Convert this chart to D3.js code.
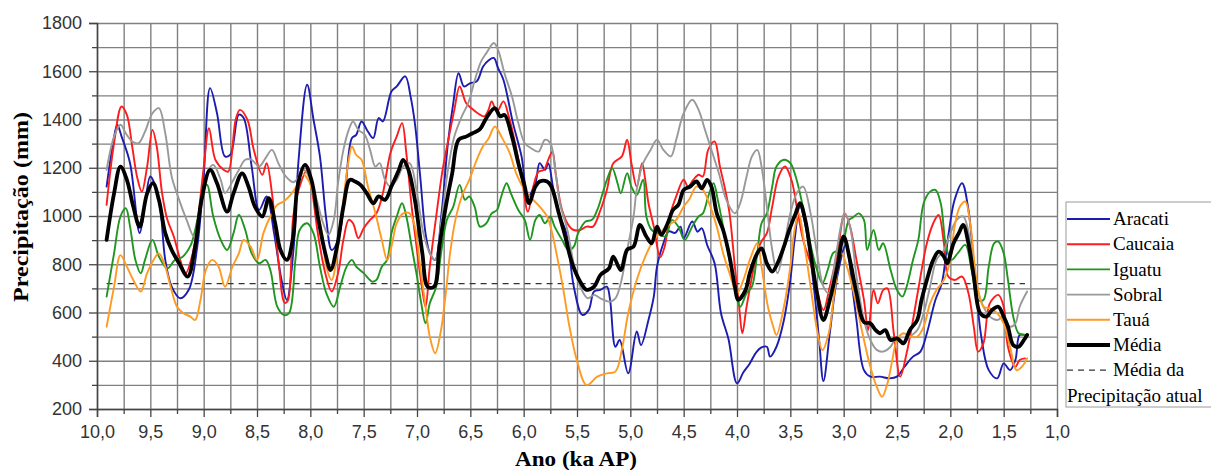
<!DOCTYPE html>
<html>
<head>
<meta charset="utf-8">
<script src="https://cdn.jsdelivr.net/npm/d3@7"></script>
<style>
  body { margin: 0; background: #fff; }
  svg { display: block; }
</style>
</head>
<body>
<div id="wrapper"></div>
<script>
// [idade ka AP, precipitação mm]
const aracati = [[9.91,1122],[9.85,1300],[9.81,1378],[9.77,1330],[9.69,1219],[9.60,929],[9.55,1050],[9.50,1164],[9.42,1067],[9.36,818],[9.30,707],[9.22,659],[9.14,694],[9.06,873],[9.00,1164],[8.94,1530],[8.875,1426],[8.80,1247],[8.75,1254],[8.67,1420],[8.625,1406],[8.55,1205],[8.48,1025],[8.41,1081],[8.34,929],[8.27,735],[8.22,652],[8.16,850],[8.11,1233],[8.03,1544],[7.97,1399],[7.91,1247],[7.85,984],[7.80,859],[7.74,901],[7.68,1067],[7.61,1323],[7.57,1336],[7.52,1392],[7.46,1350],[7.41,1323],[7.36,1406],[7.32,1392],[7.24,1516],[7.19,1537],[7.11,1579],[7.06,1495],[7.02,1385],[6.97,1164],[6.92,928],[6.88,846],[6.83,818],[6.77,1011],[6.71,1302],[6.66,1468],[6.61,1592],[6.56,1537],[6.50,1551],[6.44,1558],[6.38,1620],[6.33,1645],[6.28,1655],[6.24,1613],[6.19,1565],[6.10,1385],[6.02,1247],[5.96,1081],[5.89,1136],[5.85,1219],[5.80,1191],[5.77,1219],[5.72,1108],[5.66,998],[5.60,930],[5.53,707],[5.45,590],[5.39,611],[5.34,687],[5.28,694],[5.22,707],[5.19,652],[5.14,458],[5.10,486],[5.02,348],[4.94,521],[4.90,465],[4.83,569],[4.78,666],[4.75,790],[4.69,887],[4.64,936],[4.58,930],[4.53,956],[4.50,908],[4.42,977],[4.37,935],[4.33,949],[4.28,880],[4.21,804],[4.15,597],[4.08,490],[4.00,306],[3.94,352],[3.88,389],[3.82,435],[3.77,455],[3.72,458],[3.69,417],[3.63,458],[3.56,569],[3.50,735],[3.46,901],[3.41,1039],[3.35,942],[3.28,707],[3.23,486],[3.19,316],[3.13,514],[3.06,749],[2.98,880],[2.92,707],[2.88,569],[2.81,361],[2.75,334],[2.66,334],[2.57,327],[2.50,334],[2.43,375],[2.35,417],[2.28,438],[2.22,514],[2.14,652],[2.08,721],[2.02,915],[1.96,1067],[1.89,1136],[1.83,1025],[1.77,749],[1.71,500],[1.64,361],[1.56,327],[1.50,389],[1.44,361],[1.39,403],[1.35,507],[1.30,507]];

const caucaia = [[9.91,1046],[9.84,1302],[9.77,1454],[9.72,1419],[9.67,1288],[9.625,1164],[9.58,1101],[9.53,1205],[9.48,1357],[9.44,1288],[9.39,1095],[9.34,984],[9.28,915],[9.22,818],[9.17,762],[9.10,850],[9.05,1000],[9.00,1200],[8.95,1364],[8.89,1233],[8.81,1191],[8.77,1184],[8.70,1399],[8.66,1440],[8.59,1399],[8.53,1274],[8.45,1171],[8.41,1219],[8.36,1095],[8.30,818],[8.24,640],[8.21,650],[8.16,998],[8.10,1122],[8.03,1191],[7.99,1122],[7.93,929],[7.86,763],[7.80,687],[7.74,763],[7.69,901],[7.64,984],[7.60,970],[7.55,908],[7.50,949],[7.44,984],[7.38,1011],[7.32,1094],[7.25,1260],[7.19,1330],[7.14,1385],[7.10,1260],[7.05,1039],[7.00,859],[6.95,693],[6.92,624],[6.88,790],[6.82,998],[6.76,1191],[6.70,1330],[6.65,1440],[6.60,1537],[6.54,1468],[6.49,1447],[6.43,1426],[6.37,1413],[6.33,1440],[6.30,1475],[6.25,1433],[6.19,1475],[6.14,1413],[6.08,1302],[6.02,1164],[5.96,1018],[5.91,1122],[5.86,1184],[5.81,1191],[5.77,1233],[5.73,1267],[5.70,1177],[5.64,1025],[5.57,956],[5.53,942],[5.47,942],[5.41,956],[5.35,956],[5.28,1025],[5.22,1108],[5.16,1219],[5.08,1247],[5.03,1316],[4.99,1219],[4.94,1122],[4.89,1219],[4.86,1150],[4.83,1053],[4.78,956],[4.72,830],[4.68,870],[4.63,1000],[4.57,1081],[4.50,1150],[4.46,1122],[4.41,1150],[4.36,1171],[4.32,1164],[4.27,1274],[4.21,1309],[4.16,1205],[4.11,1108],[4.07,1011],[4.02,790],[3.98,624],[3.95,514],[3.91,624],[3.84,790],[3.78,887],[3.72,929],[3.67,1039],[3.61,1164],[3.55,1205],[3.49,1150],[3.44,1039],[3.38,901],[3.31,804],[3.25,693],[3.19,610],[3.13,707],[3.06,846],[2.99,1011],[2.94,956],[2.88,818],[2.81,652],[2.77,527],[2.72,693],[2.68,638],[2.63,693],[2.59,700],[2.53,514],[2.47,334],[2.41,431],[2.35,569],[2.28,749],[2.22,887],[2.16,970],[2.11,1004],[2.06,887],[2.02,749],[1.96,735],[1.89,749],[1.83,680],[1.78,541],[1.74,438],[1.69,472],[1.63,638],[1.55,673],[1.50,624],[1.46,458],[1.39,375],[1.35,403],[1.30,410]];

const iguatu = [[9.91,666],[9.84,845],[9.78,998],[9.73,1032],[9.69,956],[9.64,818],[9.59,763],[9.55,818],[9.48,901],[9.42,832],[9.34,783],[9.27,818],[9.20,830],[9.12,880],[9.05,1000],[8.97,1130],[8.91,998],[8.84,901],[8.78,859],[8.72,929],[8.67,1005],[8.61,942],[8.55,845],[8.48,804],[8.42,818],[8.375,776],[8.31,624],[8.25,590],[8.20,597],[8.14,818],[8.10,942],[8.03,970],[7.97,928],[7.91,790],[7.85,680],[7.78,624],[7.72,707],[7.66,790],[7.61,818],[7.57,790],[7.50,763],[7.42,728],[7.38,735],[7.33,790],[7.28,818],[7.24,928],[7.19,998],[7.14,1053],[7.10,998],[7.05,873],[7.00,749],[6.96,638],[6.92,555],[6.88,638],[6.82,707],[6.77,859],[6.72,984],[6.66,1039],[6.60,1129],[6.55,1067],[6.51,1081],[6.46,1039],[6.41,956],[6.35,970],[6.30,1011],[6.25,1025],[6.21,1081],[6.16,1136],[6.12,1094],[6.05,1025],[5.99,984],[5.94,901],[5.89,984],[5.85,1004],[5.80,970],[5.75,998],[5.71,956],[5.64,901],[5.58,859],[5.53,873],[5.49,928],[5.42,977],[5.36,984],[5.31,1025],[5.26,1094],[5.22,1150],[5.17,1198],[5.12,1136],[5.09,1094],[5.03,1177],[4.99,1122],[4.94,1087],[4.88,1150],[4.85,998],[4.80,942],[4.74,928],[4.67,915],[4.61,984],[4.55,956],[4.49,901],[4.42,956],[4.36,998],[4.32,1011],[4.27,1081],[4.22,1136],[4.18,1067],[4.13,956],[4.07,818],[4.02,707],[3.97,624],[3.91,680],[3.86,707],[3.81,846],[3.77,970],[3.72,1011],[3.67,1122],[3.63,1205],[3.56,1233],[3.50,1219],[3.45,1164],[3.41,1094],[3.35,970],[3.30,860],[3.25,776],[3.20,721],[3.15,776],[3.10,846],[3.05,860],[3.00,901],[2.95,984],[2.91,995],[2.86,1011],[2.81,984],[2.78,859],[2.72,942],[2.67,859],[2.63,887],[2.56,776],[2.50,693],[2.45,666],[2.41,707],[2.35,818],[2.30,901],[2.25,1053],[2.19,1101],[2.14,1108],[2.09,1053],[2.04,873],[1.99,818],[1.93,846],[1.86,880],[1.80,776],[1.74,652],[1.69,652],[1.64,790],[1.59,887],[1.55,894],[1.50,846],[1.46,735],[1.41,583],[1.36,514],[1.30,507]];

const sobral = [[9.91,1191],[9.84,1329],[9.78,1378],[9.73,1343],[9.67,1309],[9.61,1302],[9.55,1350],[9.48,1426],[9.42,1447],[9.36,1343],[9.30,1164],[9.23,1067],[9.16,984],[9.09,915],[9.03,1025],[8.97,1177],[8.91,1212],[8.84,1150],[8.80,1095],[8.73,1143],[8.67,1191],[8.61,1233],[8.55,1233],[8.48,1205],[8.42,1240],[8.36,1274],[8.30,1219],[8.23,1164],[8.16,1140],[8.11,1160],[8.06,1191],[8.00,1150],[7.94,1067],[7.88,970],[7.83,922],[7.78,984],[7.74,1136],[7.69,1274],[7.64,1357],[7.60,1392],[7.55,1357],[7.49,1337],[7.44,1274],[7.39,1205],[7.35,1219],[7.30,1150],[7.25,1122],[7.19,1150],[7.13,1205],[7.07,1219],[7.00,1095],[6.94,928],[6.88,846],[6.83,818],[6.77,984],[6.71,1191],[6.65,1330],[6.58,1413],[6.52,1468],[6.46,1560],[6.40,1640],[6.35,1675],[6.28,1717],[6.24,1689],[6.18,1592],[6.11,1496],[6.05,1385],[5.99,1302],[5.93,1281],[5.86,1267],[5.80,1316],[5.75,1302],[5.70,1177],[5.66,1053],[5.59,942],[5.53,800],[5.47,707],[5.40,659],[5.34,673],[5.28,659],[5.20,645],[5.14,659],[5.09,721],[5.03,859],[4.97,998],[4.94,1110],[4.88,1219],[4.81,1274],[4.75,1316],[4.69,1274],[4.62,1247],[4.57,1316],[4.50,1426],[4.42,1482],[4.36,1440],[4.30,1357],[4.24,1274],[4.17,1177],[4.10,1067],[4.02,1011],[3.97,1053],[3.91,1164],[3.86,1247],[3.81,1274],[3.77,1205],[3.72,1039],[3.67,860],[3.62,763],[3.56,873],[3.50,1011],[3.44,1094],[3.38,1122],[3.31,1011],[3.25,846],[3.19,707],[3.14,680],[3.08,818],[3.02,970],[2.99,1011],[2.94,956],[2.88,750],[2.81,569],[2.75,486],[2.69,445],[2.63,438],[2.56,458],[2.50,500],[2.44,479],[2.38,500],[2.31,527],[2.25,597],[2.19,707],[2.13,818],[2.06,859],[2.00,928],[1.94,984],[1.88,998],[1.81,887],[1.75,707],[1.69,624],[1.63,583],[1.56,569],[1.50,583],[1.44,541],[1.39,555],[1.35,624],[1.28,687]];

const taua = [[9.91,541],[9.84,707],[9.78,838],[9.72,790],[9.66,735],[9.59,687],[9.53,763],[9.47,818],[9.42,845],[9.36,790],[9.31,707],[9.25,624],[9.19,597],[9.125,583],[9.08,569],[9.03,652],[8.98,776],[8.92,818],[8.86,790],[8.80,707],[8.73,790],[8.67,845],[8.625,901],[8.56,873],[8.50,818],[8.44,929],[8.375,998],[8.31,1046],[8.25,1060],[8.19,1085],[8.13,1122],[8.08,1177],[8.02,1150],[7.96,1067],[7.89,928],[7.85,790],[7.80,735],[7.74,873],[7.69,1067],[7.64,1233],[7.61,1288],[7.57,1253],[7.52,1233],[7.46,1122],[7.39,1011],[7.33,901],[7.28,818],[7.24,873],[7.19,970],[7.13,1011],[7.07,1011],[7.02,956],[6.97,790],[6.92,624],[6.88,500],[6.83,431],[6.78,514],[6.73,680],[6.69,846],[6.64,984],[6.58,1081],[6.51,1150],[6.44,1233],[6.38,1290],[6.33,1320],[6.27,1371],[6.21,1330],[6.13,1260],[6.07,1177],[5.99,1108],[5.91,1067],[5.85,1039],[5.78,998],[5.74,942],[5.69,840],[5.63,700],[5.57,540],[5.50,400],[5.41,299],[5.31,334],[5.22,348],[5.14,355],[5.08,445],[5.02,597],[4.94,735],[4.86,832],[4.78,901],[4.71,936],[4.63,965],[4.57,984],[4.50,1039],[4.45,1067],[4.38,1122],[4.32,1108],[4.25,1039],[4.19,956],[4.13,846],[4.07,763],[4.00,680],[3.94,735],[3.88,818],[3.81,887],[3.77,790],[3.71,624],[3.66,541],[3.63,507],[3.56,624],[3.50,790],[3.46,942],[3.42,1011],[3.38,915],[3.31,707],[3.25,528],[3.20,444],[3.14,514],[3.08,707],[3.02,846],[2.96,776],[2.89,652],[2.83,527],[2.75,375],[2.69,292],[2.64,251],[2.59,306],[2.55,389],[2.50,486],[2.44,514],[2.38,500],[2.31,500],[2.25,541],[2.19,638],[2.13,693],[2.06,735],[2.00,818],[1.96,956],[1.91,1039],[1.86,1060],[1.81,956],[1.75,721],[1.69,624],[1.63,617],[1.56,597],[1.50,555],[1.44,458],[1.38,361],[1.33,375],[1.28,410]];

const media = [[9.91,901],[9.84,1094],[9.78,1205],[9.72,1150],[9.66,1039],[9.60,956],[9.53,1094],[9.475,1136],[9.42,1067],[9.36,929],[9.30,859],[9.23,804],[9.15,749],[9.08,873],[9.02,1067],[8.94,1191],[8.875,1136],[8.78,1018],[8.72,1094],[8.64,1177],[8.58,1122],[8.52,1039],[8.45,998],[8.39,1074],[8.33,970],[8.28,859],[8.22,818],[8.16,915],[8.12,1122],[8.05,1212],[7.99,1150],[7.93,998],[7.86,846],[7.81,776],[7.75,873],[7.69,1039],[7.63,1150],[7.58,1143],[7.53,1129],[7.47,1094],[7.41,1053],[7.36,1081],[7.30,1067],[7.24,1122],[7.17,1191],[7.13,1233],[7.08,1191],[7.02,1067],[6.95,846],[6.90,707],[6.84,707],[6.79,873],[6.73,1039],[6.67,1177],[6.61,1316],[6.54,1329],[6.48,1343],[6.41,1360],[6.35,1406],[6.27,1447],[6.22,1413],[6.18,1419],[6.11,1330],[6.05,1219],[5.99,1122],[5.95,1053],[5.89,1122],[5.85,1143],[5.78,1143],[5.74,1122],[5.67,1011],[5.61,915],[5.55,810],[5.47,728],[5.41,694],[5.34,707],[5.28,756],[5.20,783],[5.16,832],[5.09,776],[5.03,860],[4.97,873],[4.91,963],[4.85,915],[4.80,887],[4.75,956],[4.71,922],[4.65,970],[4.60,1025],[4.55,1046],[4.50,1108],[4.44,1122],[4.38,1143],[4.33,1115],[4.28,1150],[4.24,1122],[4.19,1011],[4.13,942],[4.07,832],[4.02,707],[3.99,652],[3.92,693],[3.88,763],[3.81,846],[3.77,866],[3.72,804],[3.67,770],[3.62,804],[3.56,873],[3.51,942],[3.45,1011],[3.41,1053],[3.36,984],[3.31,846],[3.25,680],[3.19,569],[3.13,652],[3.06,790],[3.00,915],[2.94,815],[2.88,680],[2.81,560],[2.75,555],[2.70,527],[2.66,514],[2.61,527],[2.56,486],[2.50,493],[2.44,472],[2.38,527],[2.31,569],[2.27,652],[2.22,735],[2.16,818],[2.11,852],[2.06,832],[2.03,804],[1.97,887],[1.92,929],[1.88,963],[1.83,887],[1.78,749],[1.72,597],[1.66,583],[1.61,610],[1.55,624],[1.50,583],[1.46,541],[1.41,465],[1.36,458],[1.31,486],[1.28,507]];

const seriesNames = ["Aracati", "Caucaia", "Iguatu", "Sobral", "Tauá", "Média"];
const xTickValues = [10, 9.5, 9, 8.5, 8, 7.5, 7, 6.5, 6, 5.5, 5, 4.5, 4, 3.5, 3, 2.5, 2, 1.5, 1];
const yTickValues = [200, 400, 600, 800, 1000, 1200, 1400, 1600, 1800];
const mediaAtual = 720;
const mediaAtualSpan = [9.91, 1.30];

function buildPlot() {

    const allSeries = [aracati, caucaia, iguatu, sobral, taua, media];
    const colors = ["#1c1cb0", "#ff1c1c", "#1f961f", "#999999", "#ff9a22", "#000000"];
    const widths = [1.9, 1.9, 1.9, 1.9, 1.9, 3.8];

    var dimension = {
        width: 1211,
        height: 470,
        margin: {
            top: 23,
            left: 97,
            bottom: 61,
            right: 154
        }
    };
    dimension.boundedWidth = dimension.width - dimension.margin.left - dimension.margin.right;
    dimension.boundedHeight = dimension.height - dimension.margin.top - dimension.margin.bottom;

    const svg = d3.select("#wrapper").append("svg")
        .attr("width", dimension.width)
        .attr("height", dimension.height);

    const bounded = svg.append("g")
        .attr("transform", `translate(${dimension.margin.left}, ${dimension.margin.top})`);

    const xScaler = d3.scaleLinear()
        .domain([10, 1])
        .range([0, dimension.boundedWidth]);

    const yScaler = d3.scaleLinear()
        .domain([200, 1800])
        .range([dimension.boundedHeight, 0]);

    // grade
    const xMinor = d3.range(40, 3, -1).map(d => d / 4);
    const yMinor = d3.range(200, 1801, 100);

    bounded.append("g")
        .attr("transform", `translate(0, ${dimension.boundedHeight})`)
        .call(d3.axisBottom(xScaler).tickValues(xMinor).tickSize(-dimension.boundedHeight).tickFormat(""))
        .call(g => g.select(".domain").remove())
        .call(g => g.selectAll("line").attr("stroke", "#808080").attr("stroke-width", 1.4));

    bounded.append("g")
        .call(d3.axisLeft(yScaler).tickValues(yMinor).tickSize(-dimension.boundedWidth).tickFormat(""))
        .call(g => g.select(".domain").remove())
        .call(g => g.selectAll("line").attr("stroke", "#808080").attr("stroke-width", 1.4));

    // eixos
    const commaFormat = d => d.toFixed(1).replace(".", ",");

    bounded.append("g")
        .attr("transform", `translate(0, ${dimension.boundedHeight})`)
        .call(d3.axisBottom(xScaler).tickValues(xMinor.filter(d => !xTickValues.includes(d))).tickSize(5).tickFormat(""))
        .call(g => g.select(".domain").remove())
        .call(g => g.selectAll("line").attr("stroke", "#444").attr("stroke-width", 1.3));

    const xAxis = bounded.append("g")
        .attr("transform", `translate(0, ${dimension.boundedHeight})`)
        .call(d3.axisBottom(xScaler).tickValues(xTickValues).tickSize(8).tickPadding(8).tickFormat(commaFormat));
    xAxis.selectAll("line").attr("stroke", "#444").attr("stroke-width", 1.3);
    xAxis.select(".domain").attr("stroke", "#444").attr("stroke-width", 1.5);
    xAxis.selectAll("text")
        .style("font-family", "Liberation Sans, Arial, sans-serif")
        .style("font-size", "18px")
        .attr("fill", "#333");

    bounded.append("g")
        .call(d3.axisLeft(yScaler).tickValues(yMinor.filter(d => !yTickValues.includes(d))).tickSize(5).tickFormat(""))
        .call(g => g.select(".domain").remove())
        .call(g => g.selectAll("line").attr("stroke", "#444").attr("stroke-width", 1.3));

    const yAxis = bounded.append("g")
        .call(d3.axisLeft(yScaler).tickValues(yTickValues).tickSize(8).tickPadding(7).tickFormat(d3.format("d")));
    yAxis.selectAll("line").attr("stroke", "#444").attr("stroke-width", 1.3);
    yAxis.select(".domain").attr("stroke", "#444").attr("stroke-width", 1.5);
    yAxis.selectAll("text")
        .style("font-family", "Liberation Sans, Arial, sans-serif")
        .style("font-size", "18px")
        .attr("fill", "#333");

    // média da precipitação atual
    bounded.append("line")
        .attr("x1", xScaler(mediaAtualSpan[0]))
        .attr("x2", xScaler(mediaAtualSpan[1]))
        .attr("y1", yScaler(mediaAtual))
        .attr("y2", yScaler(mediaAtual))
        .attr("stroke", "#333")
        .attr("stroke-width", 1.2)
        .attr("stroke-dasharray", "6,5");

    var lineGenerator = d3.line()
        .x(d => xScaler(d[0]))
        .y(d => yScaler(d[1]))
        .curve(d3.curveCatmullRom.alpha(0.5));

    allSeries.forEach((series, i) => {
        bounded.append("path")
            .attr("d", lineGenerator(series))
            .attr("fill", "none")
            .attr("stroke", colors[i])
            .attr("stroke-width", widths[i])
            .attr("stroke-linejoin", "round")
            .attr("stroke-linecap", "round");
    });

    // títulos dos eixos
    svg.append("text")
        .attr("transform", "translate(28, 207) rotate(-90)")
        .attr("text-anchor", "middle")
        .attr("textLength", 190)
        .attr("lengthAdjust", "spacingAndGlyphs")
        .style("font-family", "Liberation Serif, Times New Roman, serif")
        .style("font-weight", "bold")
        .style("font-size", "21px")
        .text("Precipitação (mm)");

    svg.append("text")
        .attr("x", 576)
        .attr("y", 466)
        .attr("text-anchor", "middle")
        .attr("textLength", 122)
        .attr("lengthAdjust", "spacingAndGlyphs")
        .style("font-family", "Liberation Serif, Times New Roman, serif")
        .style("font-weight", "bold")
        .style("font-size", "20px")
        .text("Ano (ka AP)");

    // legenda
    const legend = svg.append("g").attr("transform", "translate(1066, 202)");
    legend.append("rect")
        .attr("width", 170)
        .attr("height", 205)
        .attr("fill", "#fff")
        .attr("stroke", "#9a9a9a")
        .attr("stroke-width", 1);

    const rowY = i => 17 + i * 25.2;

    seriesNames.forEach((name, i) => {
        legend.append("line")
            .attr("x1", 1).attr("x2", 44)
            .attr("y1", rowY(i)).attr("y2", rowY(i))
            .attr("stroke", colors[i])
            .attr("stroke-width", widths[i]);
        legend.append("text")
            .attr("x", 47)
            .attr("y", rowY(i))
            .attr("dy", "0.33em")
            .style("font-family", "Liberation Serif, Times New Roman, serif")
            .style("font-size", "19px")
            .text(name);
    });

    legend.append("line")
        .attr("x1", 1).attr("x2", 44)
        .attr("y1", rowY(6)).attr("y2", rowY(6))
        .attr("stroke", "#333")
        .attr("stroke-width", 1.2)
        .attr("stroke-dasharray", "6,5");
    legend.append("text")
        .attr("x", 47)
        .attr("y", rowY(6))
        .attr("dy", "0.33em")
        .style("font-family", "Liberation Serif, Times New Roman, serif")
        .style("font-size", "19px")
        .text("Média da");
    legend.append("text")
        .attr("x", 1)
        .attr("y", rowY(7))
        .attr("dy", "0.33em")
        .style("font-family", "Liberation Serif, Times New Roman, serif")
        .style("font-size", "19px")
        .text("Precipitação atual");
}
buildPlot();
</script>
</body>
</html>
